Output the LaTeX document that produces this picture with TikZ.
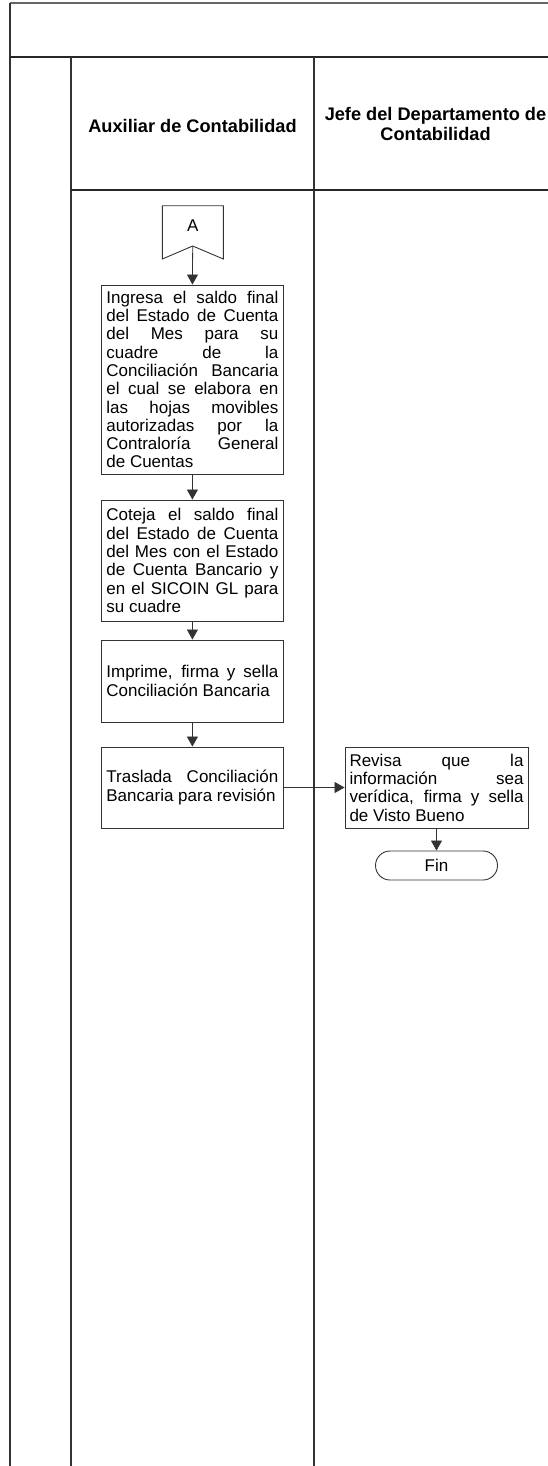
\documentclass[tikz,border=0pt]{standalone}
\usepackage{fontspec}
\setmainfont{Liberation Sans}
\usepackage{tikz}
\usetikzlibrary{arrows.meta,positioning}
\hbadness=10000
\newcommand{\cuerpo}{\fontsize{17}{18.3}\selectfont\hyphenpenalty=10000 }
\newcommand{\titulo}{\fontsize{18.2}{20}\selectfont\bfseries}

\begin{document}
\begin{tikzpicture}[x=1pt,y=-1pt,>={Triangle[length=10pt,width=11pt]},
  lane/.style={line width=1.3pt,black!80},
  procbox/.style={draw=black!80,line width=0.9pt,text width=172pt,inner xsep=4.6pt,
                  inner ysep=2pt,align=justify,font=\cuerpo,
                  execute at begin node={\cuerpo}},
  terminal/.style={draw=black!80,line width=0.9pt,rounded corners=14.5pt,
                   minimum width=122pt,minimum height=29pt,font=\cuerpo},
  cabecera/.style={font=\titulo,align=center},
  flecha/.style={->,line width=0.8pt,black!80}]
  \useasboundingbox (0,0) rectangle (548,1466);
  \clip (0,0) rectangle (548,1466);

  % marco y carriles
  \draw[gray!80!black,line width=1.4pt] (10,3) -- (560,3);
  \draw[lane] (10,3) -- (10,1470);
  \draw[line width=2.2pt,black!85] (10,57) -- (560,57);
  \draw[lane] (71,57) -- (71,1470);
  \draw[lane] (314,57) -- (314,1470);
  \draw[line width=1.2pt,black!85] (71,190) -- (560,190);

  \node[cabecera] (hAux) at (192.5,126) {Auxiliar de Contabilidad};
  \node[cabecera] (hJefe) at (435.5,124) {Jefe del Departamento de\\Contabilidad};

  % conector A
  \draw[line width=0.9pt,black!80] (162.3,205.7) -- (223.3,205.7) -- (223.3,259)
        -- (192.7,246) -- (162.3,259) -- cycle;
  \node[font=\cuerpo] (conA) at (192.7,226) {A};
  \coordinate (conApunta) at (192.7,246);

  % actividades
  \node[procbox,minimum height=189pt] (ingresa) at (192.4,379.5)
    {Ingresa el saldo final\linebreak del Estado de Cuenta\linebreak del Mes para su\linebreak
     cuadre de la\linebreak Conciliación Bancaria\linebreak el cual se elabora en\linebreak
     las hojas movibles\linebreak autorizadas por la\linebreak Contraloría General\linebreak
     de Cuentas};
  \node[procbox,minimum height=121pt] (coteja) at (192.4,560.5)
    {Coteja el saldo final\linebreak del Estado de Cuenta\linebreak del Mes con el Estado\linebreak
     de Cuenta Bancario y\linebreak en el SICOIN GL para\linebreak su cuadre};
  \node[procbox,minimum height=82pt] (imprime) at (192.4,681)
    {Imprime, firma y sella\linebreak Conciliación Bancaria};
  \node[procbox,minimum height=81pt] (traslada) at (192.4,787.5)
    {Traslada Conciliación\linebreak Bancaria para revisión};
  \node[procbox,text width=174pt,inner xsep=4.5pt,minimum height=81pt] (revisa) at (436.5,787.5)
    {Revisa que la\linebreak información sea\linebreak verídica, firma y sella\linebreak
     de Visto Bueno};
  \node[terminal] (fin) at (436.5,865.5) {Fin};

  \draw[flecha] (conApunta) -- (ingresa.north);
  \draw[flecha] (ingresa) -- (coteja);
  \draw[flecha] (coteja) -- (imprime);
  \draw[flecha] (imprime) -- (traslada);
  \draw[flecha] (traslada) -- (revisa);
  \draw[flecha] (revisa) -- (fin);
\end{tikzpicture}
\end{document}
